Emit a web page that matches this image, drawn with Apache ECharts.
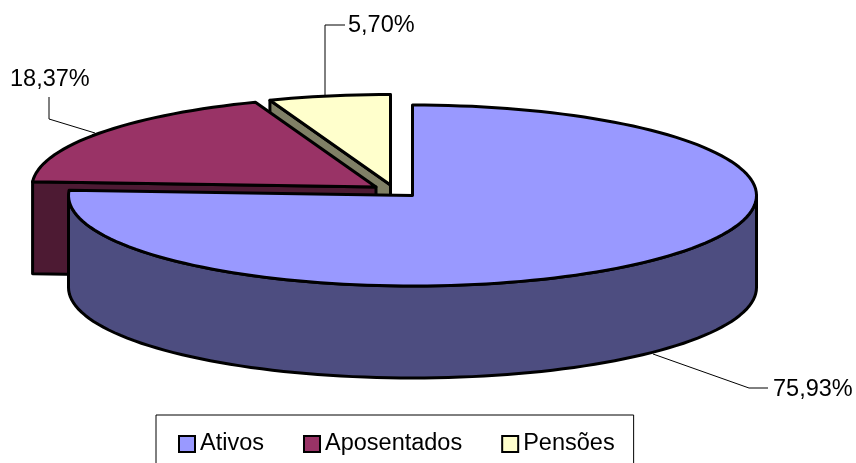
<!DOCTYPE html>
<html>
<head>
<meta charset="utf-8">
<style>
  html, body { margin: 0; padding: 0; background: #fff; }
  #chart { width: 856px; height: 463px; }
</style>
<script src="https://cdn.jsdelivr.net/npm/echarts@6/dist/echarts.min.js"></script>
</head>
<body>
<div id="chart"></div>
<script>
const categories = ['Ativos', 'Aposentados', 'Pensões']
const values = [75.93, 18.37, 5.70]
const valueLabels = ['75,93%', '18,37%', '5,70%']
const topColors = ['#9999ff', '#993366', '#ffffcc']
const sideColors = ['#4d4d80', '#4d1a33', '#808066']

// ellipse shape, each slice has its own exploded center
const rx = 344
const ry = 90.5
const depth = 92
const centers = [[412.5, 195.5], [376, 187], [390.5, 185]]
// leader lines and where the text goes
const leaders = [
    { pts: [[653, 354], [749, 388], [768, 388]], text: [773, 390] },
    { pts: [[95, 133], [49, 119], [49, 97]], text: [10, 80] },
    { pts: [[325, 97], [325, 25], [345, 25]], text: [348, 26] },
]
// draw the back slices first
const drawOrder = [2, 1, 0]

const total = values.reduce((a, b) => a + b, 0)
const startOf = idx => values.slice(0, idx).reduce((a, b) => a + b, 0) / total * 360

const rim = (c, deg, dy = 0) => {
    const r = deg * Math.PI / 180
    return [c[0] + rx * Math.sin(r), c[1] - ry * Math.cos(r) + dy]
}
const arc = (c, from, to, dy = 0) => {
    const out = []
    const n = Math.max(1, Math.ceil((to - from) / 2))
    for (let i = 0; i <= n; i++) out.push(rim(c, from + (to - from) * i / n, dy))
    return out
}

const edge = { stroke: '#000', lineWidth: 3, lineJoin: 'round' }

const renderSlice = idx => (params, api) => {
    const c = centers[idx]
    const from = startOf(idx)
    const to = from + api.value(0) / total * 360
    const children = []

    // cut face, only the ones turned towards the viewer
    if (from > 180) {
        const p = rim(c, from)
        children.push({
            type: 'polygon',
            shape: { points: [c, p, [p[0], p[1] + depth], [c[0], c[1] + depth]] },
            style: { fill: sideColors[idx], ...edge },
        })
    }
    // outer wall, front half only
    const wallFrom = Math.max(from, 90)
    const wallTo = Math.min(to, 270)
    if (wallTo > wallFrom) {
        const top = arc(c, wallFrom, wallTo)
        const bottom = arc(c, wallFrom, wallTo, depth).reverse()
        children.push({
            type: 'polygon',
            shape: { points: top.concat(bottom) },
            style: { fill: sideColors[idx], ...edge },
        })
    }
    // top face
    children.push({
        type: 'polygon',
        shape: { points: [c].concat(arc(c, from, to)) },
        style: { fill: topColors[idx], ...edge },
    })

    const lead = leaders[idx]
    children.push({
        type: 'polyline',
        shape: { points: lead.pts },
        style: { fill: null, stroke: '#000', lineWidth: 1 },
    })
    children.push({
        type: 'text',
        x: lead.text[0],
        y: lead.text[1],
        style: {
            text: valueLabels[idx],
            fill: '#000',
            font: '23.5px "Liberation Sans"',
            verticalAlign: 'middle',
        },
    })
    return { type: 'group', children }
}

const chart = echarts.init(document.getElementById('chart'), null, { renderer: 'canvas' })
chart.setOption({
    animation: false,
    backgroundColor: '#fff',
    legend: {
        left: 156,
        top: 415,
        padding: [17, 19, 25, 22],
        itemGap: 39,
        itemWidth: 16,
        itemHeight: 16,
        icon: 'rect',
        selectedMode: false,
        borderColor: '#000',
        borderWidth: 1,
        textStyle: { color: '#000', fontFamily: 'Liberation Sans', fontSize: 23.5, padding: [0, 0, 0, 0] },
        data: categories.map((name, i) => ({
            name,
            itemStyle: { color: topColors[i], borderColor: '#000', borderWidth: 2 },
        })),
    },
    series: drawOrder.map(idx => ({
        type: 'custom',
        name: categories[idx],
        coordinateSystem: 'none',
        silent: true,
        itemStyle: { color: topColors[idx] },
        data: [[values[idx]]],
        renderItem: renderSlice(idx),
    })),
})
</script>
</body>
</html>
